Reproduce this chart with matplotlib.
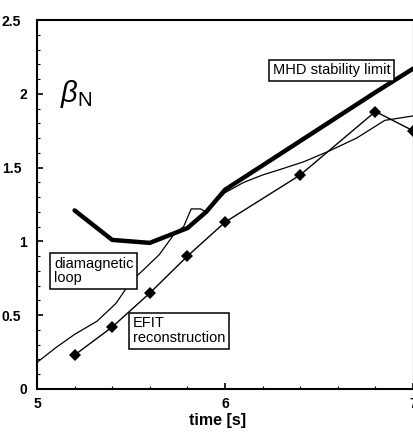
import matplotlib
matplotlib.use("Agg")
import matplotlib.pyplot as plt
from matplotlib.ticker import MultipleLocator, FixedLocator
from matplotlib.transforms import ScaledTranslation

# beta_N evolution during the discharge
mhd_t = [5.2, 5.4, 5.6, 5.8, 5.9, 6.0, 6.4, 6.8, 7.0]
mhd_b = [1.21, 1.01, 0.99, 1.09, 1.20, 1.35, 1.68, 2.01, 2.17]

diamag_t = [5.0, 5.1, 5.2, 5.32, 5.42, 5.5, 5.56, 5.65, 5.73, 5.78, 5.82, 5.87, 5.9,
            6.0, 6.1, 6.2, 6.3, 6.42, 6.55, 6.7, 6.85, 7.0]
diamag_b = [0.18, 0.28, 0.37, 0.46, 0.58, 0.73, 0.80, 0.91, 1.05, 1.10, 1.22, 1.22, 1.20,
            1.33, 1.40, 1.45, 1.49, 1.54, 1.61, 1.70, 1.82, 1.85]

efit_t = [5.2, 5.4, 5.6, 5.8, 6.0, 6.4, 6.8, 7.0]
efit_b = [0.23, 0.42, 0.65, 0.90, 1.13, 1.45, 1.88, 1.75]

x_ticks = [5, 6, 7]
x_ticklabels = ["5", "6", "7"]
y_ticks = [0, 0.5, 1, 1.5, 2, 2.5]
y_ticklabels = ["0", "0.5", "1", "1.5", "2", "2.5"]

plt.rcParams["font.family"] = ["Liberation Sans", "DejaVu Sans"]
plt.rcParams["mathtext.fontset"] = "custom"
plt.rcParams["mathtext.rm"] = "Liberation Sans"
plt.rcParams["mathtext.it"] = "Liberation Sans:italic"

fig = plt.figure(figsize=(4.14, 4.38), dpi=100)
ax = fig.add_axes([37 / 414, 49 / 438, 376 / 414, 369 / 438])

ax.plot(mhd_t, mhd_b, color="black", lw=3.2, solid_capstyle="round",
        solid_joinstyle="round", zorder=3)
ax.plot(diamag_t, diamag_b, color="black", lw=0.9, zorder=4)
ax.plot(efit_t, efit_b, color="black", lw=1.0, marker="D", markersize=6.5,
        markeredgewidth=0, zorder=5)

ax.set_xlim(5, 7)
ax.set_ylim(0, 2.5)

ax.xaxis.set_major_locator(FixedLocator(x_ticks))
ax.set_xticklabels(x_ticklabels)
ax.xaxis.set_minor_locator(MultipleLocator(0.2))
ax.yaxis.set_major_locator(FixedLocator(y_ticks))
ax.set_yticklabels(y_ticklabels)
ax.yaxis.set_minor_locator(MultipleLocator(0.1))

ax.tick_params(axis="both", which="both", direction="in", top=False, right=False,
               color="black")
ax.tick_params(axis="both", which="major", length=4, width=1.2, labelsize=10)
ax.tick_params(axis="both", which="minor", length=2.5, width=0.8)
ax.tick_params(axis="y", which="major", pad=7)
ax.tick_params(axis="x", which="major", pad=6)

for lab in ax.get_yticklabels() + ax.get_xticklabels():
    lab.set_fontweight("bold")
for lab in ax.get_yticklabels():
    if "." in lab.get_text():
        lab.set_transform(lab.get_transform() +
                          ScaledTranslation(-6 / 100, 0, fig.dpi_scale_trans))

for side in ["left", "bottom", "top"]:
    ax.spines[side].set_linewidth(1.5)
ax.spines["right"].set_linewidth(0.8)

ax.set_xlabel("time [s]", fontsize=11.5, fontweight="bold")
ax.xaxis.set_label_coords(0.48, -0.065)

ax.text(0.062, 0.80, r"$\beta_{\mathrm{N}}$", transform=ax.transAxes,
        fontsize=21, ha="left", va="center")

box = dict(boxstyle="square,pad=0.25", facecolor="white", edgecolor="black", lw=1.1)
ax.text(6.255, 2.16, "MHD stability limit", fontsize=10.5, ha="left", va="center",
        bbox=box, zorder=6)
ax.text(5.09, 0.80, "diamagnetic\nloop", fontsize=10.5, ha="left", va="center",
        linespacing=1.05, bbox=box, zorder=6)
ax.text(5.51, 0.395, "EFIT\nreconstruction", fontsize=10.5, ha="left", va="center",
        linespacing=1.05, bbox=box, zorder=6)

fig.savefig("out.png", dpi=100)
